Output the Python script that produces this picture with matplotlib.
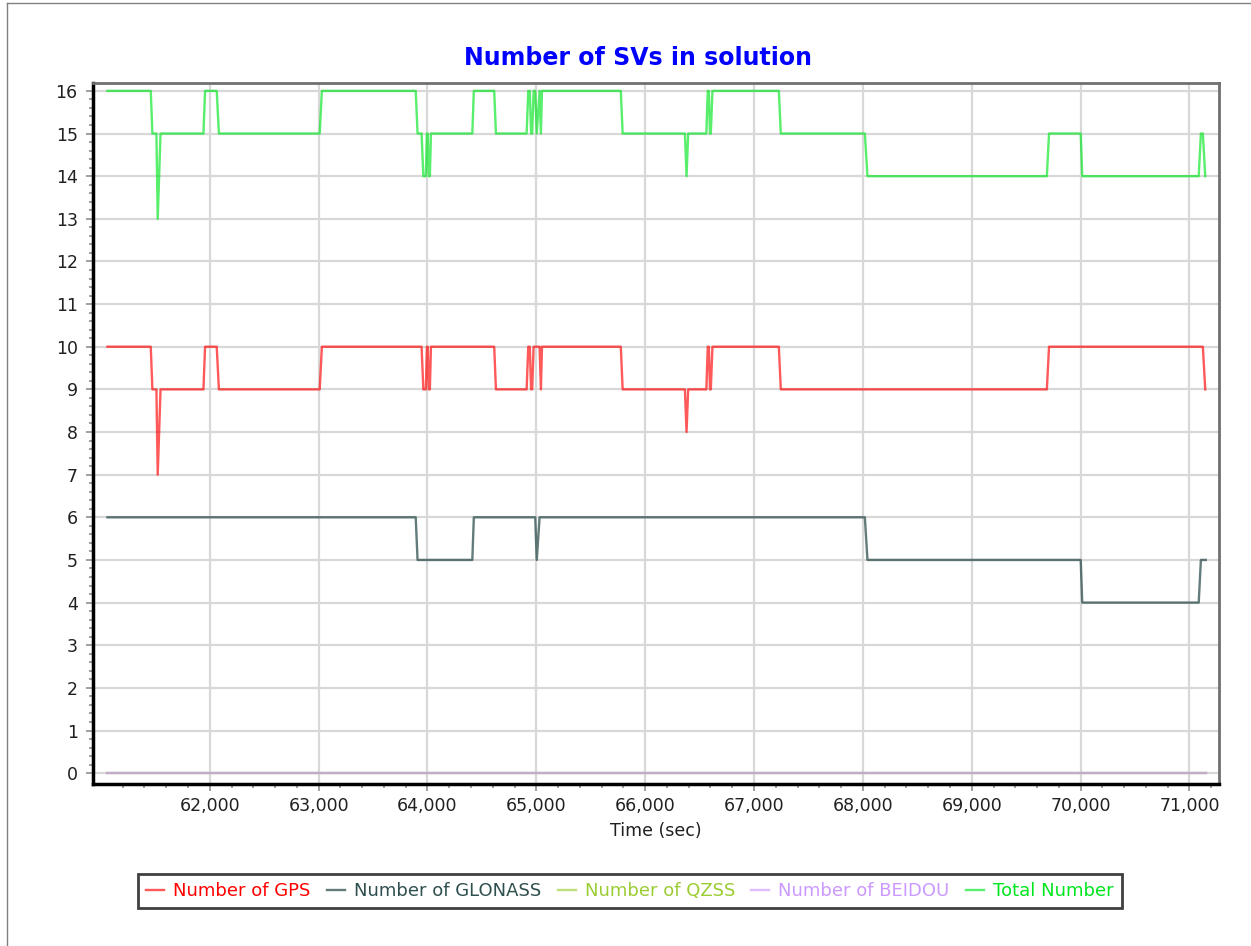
import matplotlib.pyplot as plt
from matplotlib.lines import Line2D
from matplotlib.ticker import FixedLocator, FuncFormatter

# number of GPS SVs (time in sec, count)
gps_time = [61060, 61458, 61473, 61510, 61522, 61548, 61942, 61957, 62064, 62084,
            63010, 63030, 63946, 63962, 63985, 63995, 64003, 64012, 64022, 64032,
            64613, 64629, 64911, 64926, 64940, 64952, 64962, 64975, 65030, 65042,
            65052, 65776, 65793, 66365, 66380, 66395, 66562, 66575, 66585, 66595,
            66603, 66618, 67228, 67246, 69690, 69710, 71123, 71145]
gps_count = [10, 10, 9, 9, 7, 9, 9, 10, 10, 9,
             9, 10, 10, 9, 9, 10, 10, 9, 9, 10,
             10, 9, 9, 10, 10, 9, 9, 10, 10, 9,
             10, 10, 9, 9, 8, 9, 9, 10, 10, 9,
             9, 10, 10, 9, 9, 10, 10, 9]

# number of GLONASS SVs
glo_time = [61060, 63892, 63909, 64412, 64426, 64990, 65004, 65030,
            68018, 68042, 70001, 70015, 71085, 71105, 71150]
glo_count = [6, 6, 5, 5, 6, 6, 5, 6,
             6, 5, 5, 4, 4, 5, 5]

# total number of SVs
tot_time = [61060, 61458, 61473, 61510, 61522, 61548, 61942, 61957, 62064, 62084,
            63010, 63030, 63892, 63909, 63946, 63962, 63985, 63995, 64003, 64012,
            64022, 64032, 64412, 64426, 64613, 64629, 64911, 64926, 64940, 64952,
            64962, 64975, 64990, 65004, 65030, 65042, 65052, 65776, 65793, 66365,
            66380, 66395, 66562, 66575, 66585, 66595, 66603, 66618, 67228, 67246,
            68018, 68042, 69690, 69710, 70001, 70015, 71085, 71105, 71123, 71145]
tot_count = [16, 16, 15, 15, 13, 15, 15, 16, 16, 15,
             15, 16, 16, 15, 15, 14, 14, 15, 15, 14,
             14, 15, 15, 16, 16, 15, 15, 16, 16, 15,
             15, 16, 16, 15, 16, 15, 16, 16, 15, 15,
             14, 15, 15, 16, 16, 15, 15, 16, 16, 15,
             15, 14, 14, 15, 15, 14, 14, 15, 15, 14]

# QZSS and BEIDOU stay at zero
zero_time = [61060, 71150]
qzss_count = [0, 0]
beidou_count = [0, 0]

x_major = [62000, 63000, 64000, 65000, 66000, 67000, 68000, 69000, 70000, 71000]

c_gps = '#FF0000'
c_glo = '#2F4F4F'
c_qzss = '#9ACD32'
c_bei = '#CC99FF'
c_tot = '#00E61E'

fig = plt.figure(figsize=(12.51, 9.46), dpi=100)
ax = fig.add_axes([0.0743, 0.171, 0.9, 0.7415])

lw = 1.7
al = 0.65
ax.plot(gps_time, gps_count, color=c_gps, lw=lw, alpha=al, label='Number of GPS')
ax.plot(glo_time, glo_count, color=c_glo, lw=lw, alpha=0.75, label='Number of GLONASS')
ax.plot(zero_time, qzss_count, color=c_qzss, lw=lw, alpha=al, label='Number of QZSS')
ax.plot(zero_time, beidou_count, color=c_bei, lw=lw, alpha=al, label='Number of BEIDOU')
ax.plot(tot_time, tot_count, color=c_tot, lw=lw, alpha=al, label='Total Number')

ax.set_xlim(60927, 71270)
ax.set_ylim(-0.26, 16.19)

ax.xaxis.set_major_locator(FixedLocator(x_major))
ax.xaxis.set_minor_locator(FixedLocator([t for t in range(61200, 71201, 200) if t % 1000]))
ax.xaxis.set_major_formatter(FuncFormatter(lambda v, p: f'{int(v):,}'))
ax.yaxis.set_major_locator(FixedLocator(range(0, 17)))
ax.yaxis.set_minor_locator(FixedLocator([i / 5 for i in range(0, 81) if i % 5]))

ax.grid(True, which='major', color='#D8D8D8', lw=1.6)
ax.set_axisbelow(True)

ax.tick_params(which='both', direction='out', colors='#909090', labelcolor='#202020', labelsize=12.5)
ax.tick_params(which='major', length=5, width=1.2)
ax.tick_params(which='minor', length=3, width=1.2)
ax.tick_params(axis='y', pad=6)
ax.tick_params(axis='x', pad=4)

for side in ['left', 'bottom']:
    ax.spines[side].set_color('black')
    ax.spines[side].set_linewidth(2.5)
for side in ['top', 'right']:
    ax.spines[side].set_color('#707070')
    ax.spines[side].set_linewidth(2)

ax.set_xlabel('Time (sec)', fontsize=12.5, color='#202020', labelpad=5)

fig.text(0.51, 0.9387, 'Number of SVs in solution', color='#0000FF', fontsize=17,
         fontweight='bold', ha='center', va='center')

leg = fig.legend(loc='center', bbox_to_anchor=(0.5036, 0.058), ncol=5, fontsize=13,
                 handlelength=1.0, handletextpad=0.5, columnspacing=0.9,
                 fancybox=False, framealpha=1, borderpad=0.45)
leg.get_frame().set_edgecolor('#404040')
leg.get_frame().set_linewidth(2)
for txt, col in zip(leg.get_texts(), [c_gps, c_glo, c_qzss, c_bei, c_tot]):
    txt.set_color(col)

# thin frame round the picture
fig.add_artist(Line2D([0.0056, 0.0056], [0, 0.997], transform=fig.transFigure, color='#808080', lw=1))
fig.add_artist(Line2D([0.0056, 1], [0.997, 0.997], transform=fig.transFigure, color='#808080', lw=1))

fig.savefig('out.png', dpi=100)
